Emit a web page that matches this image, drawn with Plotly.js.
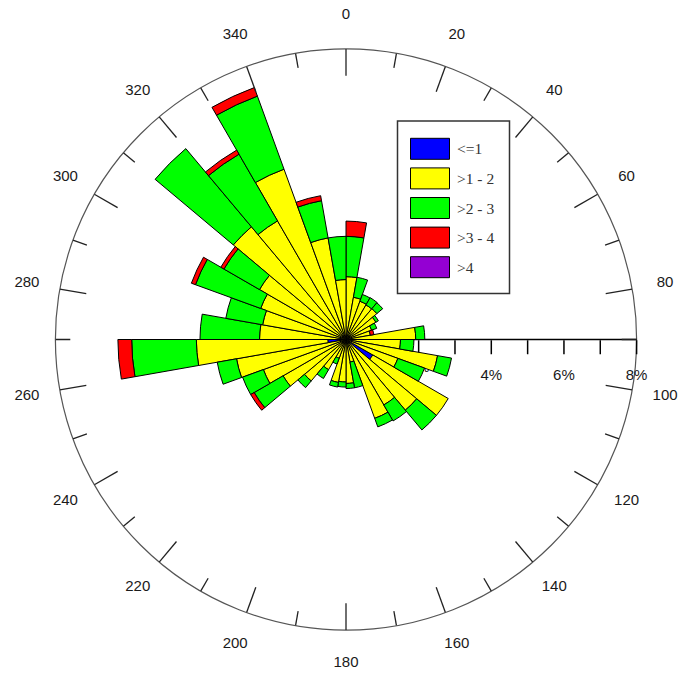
<!DOCTYPE html>
<html><head><meta charset="utf-8">
<script src="https://cdn.plot.ly/plotly-3.0.1.min.js"></script>
<style>html,body{margin:0;padding:0;background:#fff}</style>
</head><body>
<div id="chart" style="width:681px;height:674px"></div>
<script>
// ---- data (percent of time per 10-degree direction sector) ----
const sectorCenters = [5,15,25,35,45,55,65,75,85,95,105,115,125,135,145,155,165,175,
                       185,195,205,215,225,235,245,255,265,275,285,295,305,315,325,335,345,355];
const seriesNames  = ['<=1', '>1 - 2', '>2 - 3', '>3 - 4', '>4'];
const seriesColors = ['#0000ff', '#ffff00', '#00ff00', '#ff0000', '#9400d3'];
const speedLe1   = [0,0,0,0,0,0,0,0,0,0,0,0,0.85,0,0,0,0,0, 0,0,0,0,0,0,0,0,0.50,0,0,0,0,0,0,0,0,0];
const speed1to2  = [1.73,1.18,1.12,1.10,1.11,0.95,0.75,0.68,1.92,1.50,2.56,1.52,2.40,2.54,2.08,2.31,0.63,1.21,
                    1.17,1.20,0.55,0.96,1.49,2.00,2.42,3.06,3.62,2.38,2.33,2.50,2.75,4.05,3.77,4.99,2.84,1.65];
const speed2to3  = [1.11,0.56,0.20,0.23,0.21,0.08,0.15,0,0.25,0.37,0.39,0.78,0,0.71,0.51,0.25,0.72,0.14,
                    0.14,0.13,0.17,0.28,0.24,0.92,0.61,0.54,1.78,1.64,1.03,1.91,1.13,2.81,2.12,2.14,1.04,1.19];
const speed3to4  = [0.42,0,0,0,0,0,0,0.10,0,0,0,0,0,0,0,0,0,0,
                    0,0,0,0,0,0.11,0,0,0.38,0,0,0.12,0.10,0,0.13,0.25,0.14,0];
const speedGt4   = [0,0,0,0,0,0,0,0,0,0,0,0,0,0,0,0,0,0, 0,0,0,0,0,0,0,0,0,0,0,0,0,0,0,0,0,0];
const majorTickAngles = [0,20,40,60,80,100,120,140,160,180,200,220,240,260,280,300,320,340];
const minorTickAngles = [10,30,50,70,90,110,130,150,170,190,210,230,250,270,290,310,330,350];
const angleLabels = ['0','20','40','60','80','100','120','140','160','180','200','220','240','260','280','300','320','340'];
const radialTickVals = [1,2,3,4,5,6,7,8];
const radialTickText = ['','2%','','','','','',''];   // drawn by the axis (under the bars)
const radialLabelVals = [4,6,8];
const radialLabelText = ['4%','6%','8%'];

// ---- build ----
const W = 681, H = 674;
const RMAX = 8;            // outer circle of the rose (percent)
const RLABEL = 8.92;       // radius of the direction labels, same percent scale
const RMAX2 = 8.95;        // range of the (invisible) label ring
const seriesValues = [speedLe1, speed1to2, speed2to3, speed3to4, speedGt4];
const axisFont = {family: 'Liberation Sans, Arial, sans-serif', size: 15, color: '#1a1a1a'};

const traces = [];
// radial tick labels 4%,6%,8%
traces.push({
  type: 'scatterpolar', mode: 'markers+text', r: radialLabelVals,
  theta: radialLabelVals.map(() => 90), text: radialLabelText,
  textposition: 'bottom center', textfont: axisFont,
  marker: {size: 46, opacity: 0}, cliponaxis: false, hoverinfo: 'skip', showlegend: false
});
// angular tick marks (inward)
function tickSegs(angles, len) {
  const r = [], t = [];
  angles.forEach(a => { r.push(RMAX, RMAX - len, null); t.push(a, a, null); });
  return {r, t};
}
const maj = tickSegs(majorTickAngles, 0.74), mnr = tickSegs(minorTickAngles, 0.41);
traces.push({type: 'scatterpolar', mode: 'lines', r: maj.r.concat(mnr.r), theta: maj.t.concat(mnr.t),
  line: {color: '#222', width: 1.3}, connectgaps: false, hoverinfo: 'skip', showlegend: false});
// bars
seriesNames.forEach((name, i) => {
  traces.push({type: 'barpolar', name: name, r: seriesValues[i], theta: sectorCenters,
    width: sectorCenters.map(() => 10),
    marker: {color: seriesColors[i], line: {color: '#000', width: 1}}});
});
// direction labels on a concentric, invisible ring with the same scale
traces.push({type: 'scatterpolar', subplot: 'polar2', mode: 'text', r: majorTickAngles.map(() => RLABEL),
  theta: majorTickAngles, text: angleLabels, textposition: 'middle center', textfont: axisFont,
  cliponaxis: false, hoverinfo: 'skip', showlegend: false});

// custom legend (box + swatches + labels)
const px = x => x / W, py = y => 1 - y / H;
const shapes = [{type: 'rect', xref: 'paper', yref: 'paper', x0: px(397.5), x1: px(509.5), y0: py(121), y1: py(293.5),
  line: {color: '#333', width: 1.5}, fillcolor: '#fff', layer: 'above'}];
const annotations = [];
const esc = s => s.replace(/</g, '&lt;').replace(/>/g, '&gt;');
seriesNames.forEach((name, i) => {
  const c = 148.8 + i * 29.6;
  shapes.push({type: 'rect', xref: 'paper', yref: 'paper', x0: px(410.5), x1: px(449.5), y0: py(c + 10.5), y1: py(c - 10.5),
    line: {color: '#000', width: 1}, fillcolor: seriesColors[i], layer: 'above'});
  annotations.push({xref: 'paper', yref: 'paper', x: px(455), y: py(c), xanchor: 'left', yanchor: 'middle',
    text: esc(name), showarrow: false, font: {family: 'Liberation Serif, Times New Roman, serif', size: 15.5, color: '#333'}});
});

const cx = 346, cy = 339.5, R = 290.6;
const R2 = R * RMAX2 / RMAX;
const layout = {
  width: W, height: H, margin: {l: 0, r: 0, t: 0, b: 0},
  paper_bgcolor: '#fff', plot_bgcolor: '#fff', showlegend: false,
  polar2: {
    domain: {x: [(cx - R2) / W, (cx + R2) / W], y: [1 - (cy + R2) / H, 1 - (cy - R2) / H]},
    bgcolor: 'rgba(0,0,0,0)',
    angularaxis: {rotation: 90, direction: 'clockwise', visible: false, showline: false, showgrid: false, ticks: '', showticklabels: false},
    radialaxis: {range: [0, RMAX2], visible: false, showline: false, showgrid: false, ticks: '', showticklabels: false}
  },
  polar: {
    domain: {x: [(cx - R) / W, (cx + R) / W], y: [1 - (cy + R) / H, 1 - (cy - R) / H]},
    bgcolor: 'rgba(0,0,0,0)', barmode: 'stack', bargap: 0,
    angularaxis: {rotation: 90, direction: 'clockwise', showline: true, linecolor: '#555', linewidth: 1.2,
      showgrid: false, ticks: '', showticklabels: false, layer: 'below traces'},
    radialaxis: {range: [0, RMAX], angle: 0, side: 'clockwise', showline: true, linecolor: '#000', linewidth: 1.5,
      showgrid: false, ticks: 'outside', ticklen: 14, tickwidth: 1.5, tickcolor: '#000',
      tickmode: 'array', tickvals: radialTickVals, ticktext: radialTickText, tickangle: 0,
      showticklabels: true, tickfont: axisFont, layer: 'below traces'}
  },
  shapes: shapes, annotations: annotations
};
Plotly.newPlot('chart', traces, layout, {staticPlot: true, displayModeBar: false});
</script>
</body></html>
